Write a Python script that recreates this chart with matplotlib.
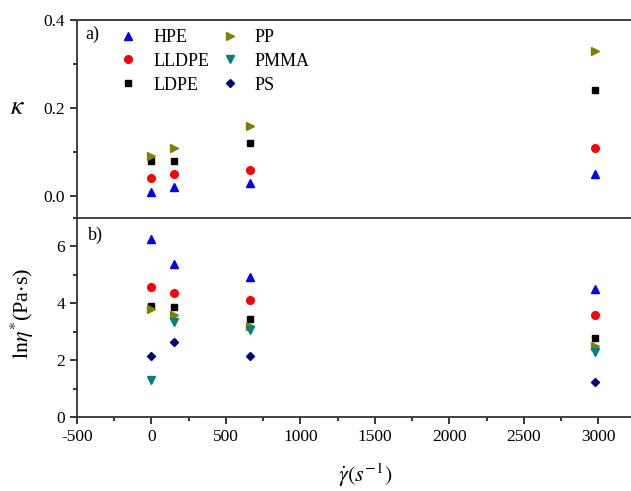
import matplotlib
matplotlib.use("Agg")
import matplotlib.pyplot as plt
from matplotlib.ticker import MultipleLocator

plt.rcParams['font.family'] = ['Liberation Serif', 'DejaVu Serif']
plt.rcParams['mathtext.fontset'] = 'stix'
plt.rcParams['axes.unicode_minus'] = False

shear_rate = [0, 150, 665, 2975]
materials = ['HPE', 'LLDPE', 'LDPE', 'PP', 'PMMA', 'PS']
colors = ['#0000ff', '#ff0000', '#000000', '#808000', '#008080', '#000080']
markers = ['^', 'o', 's', '>', 'v', 'D']

kappa = {
    'HPE':   [0.01, 0.02, 0.03, 0.05],
    'LLDPE': [0.04, 0.05, 0.06, 0.11],
    'LDPE':  [0.08, 0.08, 0.12, 0.24],
    'PP':    [0.09, 0.11, 0.16, 0.33],
}
ln_eta = {
    'HPE':   [6.25, 5.38, 4.94, 4.51],
    'LLDPE': [4.59, 4.36, 4.10, 3.58],
    'LDPE':  [3.92, 3.86, 3.46, 2.79],
    'PP':    [3.80, 3.59, 3.21, 2.48],
    'PMMA':  [1.30, 3.33, 3.06, 2.30],
    'PS':    [2.16, 2.63, 2.16, 1.23],
}

fig = plt.figure(figsize=(6.31, 4.91), dpi=100)
L, R = 77/631, 1.0
axa = fig.add_axes([L, 1-218/491, R-L, (218-20)/491])
axb = fig.add_axes([L, 1-417/491, R-L, (417-218)/491], sharex=axa)

msizes = {'^': 6, 'o': 5.5, 's': 5, '>': 6, 'v': 6, 'D': 4.5}
handles = []
for m, c, mk in zip(materials, colors, markers):
    if m in kappa:
        axa.plot(shear_rate, kappa[m], linestyle='none', marker=mk, color=c, ms=msizes[mk])
    h, = axb.plot(shear_rate, ln_eta[m], linestyle='none', marker=mk, color=c, ms=msizes[mk], label=m)
    handles.append(h)

axa.set_xlim(-500, 3220)
axa.set_ylim(-0.05, 0.4)
axb.set_ylim(0, 7)

for ax in (axa, axb):
    ax.spines['right'].set_visible(False)
    for s in ('left', 'top', 'bottom'):
        ax.spines[s].set_linewidth(1.3)
        ax.spines[s].set_color('#333333')
    ax.tick_params(which='major', direction='out', length=5, width=1.1, labelsize=12.5, right=False, top=False)
    ax.tick_params(which='minor', direction='out', length=3, width=1.1, right=False, top=False)
    ax.xaxis.set_major_locator(MultipleLocator(500))
    ax.xaxis.set_minor_locator(MultipleLocator(250))

axa.spines['bottom'].set_visible(False)
axa.tick_params(axis='x', which='both', bottom=False, labelbottom=False)
axa.yaxis.set_major_locator(MultipleLocator(0.2))
axa.yaxis.set_minor_locator(MultipleLocator(0.1))
axb.yaxis.set_major_locator(MultipleLocator(2))
axb.yaxis.set_minor_locator(MultipleLocator(1))

axa.text(0.015, 0.93, 'a)', transform=axa.transAxes, fontsize=13, va='center', ha='left')
axb.text(0.02, 0.915, 'b)', transform=axb.transAxes, fontsize=13, va='center', ha='left')

axa.legend(handles=handles, ncol=2, frameon=False, loc='upper left',
           bbox_to_anchor=(0.057, 1.01),
           fontsize=13, handletextpad=0.9, columnspacing=0.6, labelspacing=0.38,
           handlelength=1.0, borderaxespad=0.2)

axa.set_ylabel(r'$\kappa$', fontsize=20, rotation=0, va='center', ha='center')
axa.yaxis.set_label_coords(-0.108, 0.556)
axb.set_ylabel(r'$\mathrm{ln}\eta^{*}$(Pa$\cdot$s)', fontsize=16, va='center', ha='center')
axb.yaxis.set_label_coords(-0.098, 0.52)
axb.set_xlabel(r'$\dot{\gamma}(s^{-1})$', fontsize=16, va='center')
axb.xaxis.set_label_coords(0.52, -0.295)

fig.savefig('out.png', dpi=100)
